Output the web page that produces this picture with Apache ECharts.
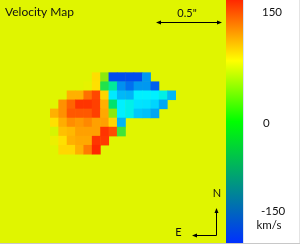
<!DOCTYPE html>
<html><head><meta charset="utf-8">
<script src="https://cdn.jsdelivr.net/npm/echarts@6/dist/echarts.min.js"></script>
<style>html,body{margin:0;padding:0;background:#fff}#c{width:300px;height:245px}</style>
</head><body><div id="c"></div>
<script>
// Grid: 27 x 27 spaxels
const nCols = 27;
const nRows = 27;
// Velocity values (km/s) per row: first row index, first column of each row, values left->right
const firstRow = 8;
const rowStartCol = [11, 10, 8, 7, 6, 6, 6, 6, 7];
const rowValues = [
  [66, 22, -150, -150, -150, -150, -100],
  [43, 65, 5, -12, -105, -125, -100, -100, -135],
  [95, 95, 130, 147, 72, -45, -80, -83, -40, -40, -40, -32, -80],
  [115, 135, 155, 155, 150, 95, -3, -40, -33, -50, -52, -62, -90],
  [95, 115, 140, 140, 140, 150, 100, 22, -40, -33, -70, -75, -92],
  [65, 97, 117, 110, 120, 105, 105, 72, -82],
  [38, 85, 90, 105, 105, 105, 155, 145, 10],
  [47, 65, 95, 100, 100, 155, 153],
  [70, 70, 95, 125, 160]
];
// Colour bar
const barMin = -166, barMax = 166;
const barTicks = ['150', '0', '-150'];
const barUnit = 'km/s';
const title = 'Velocity Map';
const scaleLabel = '0.5"';

const mapColors = ['#0040f0','#0058f0','#0078f0','#0098f0','#00b8f8','#00d8ff','#00f0ff','#00f0c0',
  '#00e060','#80e810','#e0f500','#ffe800','#ffc800','#ffa800','#ff8800','#ff5800','#ff2800'];
const barColors = ['#0030ff','#00987f','#00ff00','#ffff00','#ff2800'];

const data = [];
rowValues.forEach((vals, i) => {
  vals.forEach((v, j) => data.push([rowStartCol[i] + j, firstRow + i, v]));
});
const catX = Array.from({length: nCols}, (_, i) => String(i));
const catY = Array.from({length: nRows}, (_, i) => String(i));

const FONT = 'Lato';
const txt = (x, y, s, size, align) => ({
  type: 'text', x, y, silent: true,
  style: {text: s, fill: '#111', font: size + 'px ' + FONT, textAlign: align || 'left', textVerticalAlign: 'middle'}
});
const line = (pts, c) => ({type: 'polyline', silent: true, shape: {points: pts}, style: {stroke: c || '#000', lineWidth: 1, fill: null}});
const tri = (pts) => ({type: 'polygon', silent: true, shape: {points: pts}, style: {fill: '#000'}});

// colour-bar gradient (top = max)
const barStops = barColors.slice().reverse().map((c, i, a) => ({offset: i / (a.length - 1), color: c}));

const chart = echarts.init(document.getElementById('c'), null, {renderer: 'canvas'});
chart.setOption({
  animation: false,
  backgroundColor: '#ffffff',
  grid: {left: 0, top: -1.7, width: 226, height: 247.9, show: true, backgroundColor: '#e0f500', borderWidth: 0},
  xAxis: {type: 'category', data: catX, show: false},
  yAxis: {type: 'category', data: catY, inverse: true, show: false},
  visualMap: [
    {type: 'continuous', show: false, seriesIndex: 0, dimension: 2, min: -160, max: 160, inRange: {color: mapColors}}
  ],
  series: [
    {type: 'heatmap', data: data, itemStyle: {borderWidth: 0}, emphasis: {disabled: true}}
  ],
  graphic: [
    {type: 'rect', silent: true, shape: {x: 226, y: 0, width: 17, height: 243},
     style: {fill: new echarts.graphic.LinearGradient(0, 0, 0, 1, barStops)}},
    line([[243.5, 0], [243.5, 243]], '#d8e4f0'),
    txt(5, 12, title, 12),
    txt(187, 13, scaleLabel, 11, 'center'),
    line([[158, 22.5], [220, 22.5]]),
    tri([[156, 22.5], [161, 20.5], [161, 24.5]]),
    tri([[222, 22.5], [217, 20.5], [217, 24.5]]),
    txt(217, 193, 'N', 11, 'center'),
    line([[216.5, 212], [216.5, 235.5], [195, 235.5]]),
    tri([[216.5, 208], [214.5, 213], [218.5, 213]]),
    tri([[192, 235.5], [197, 233.5], [197, 237.5]]),
    txt(178.5, 232.5, 'E', 11, 'center'),
    txt(262, 12.5, barTicks[0], 11.5),
    txt(263, 123, barTicks[1], 11.5),
    txt(261, 211.5, barTicks[2], 11.5),
    txt(269, 225, barUnit, 11.5, 'center'),
    {type: 'rect', silent: true, shape: {x: 0, y: 243, width: 300, height: 2}, style: {fill: '#fff'}},
    line([[0, 243.5], [300, 243.5]], '#c8c8c8'),
    line([[299.5, 0], [299.5, 243]], '#e4e4e4')
  ]
});
</script></body></html>
